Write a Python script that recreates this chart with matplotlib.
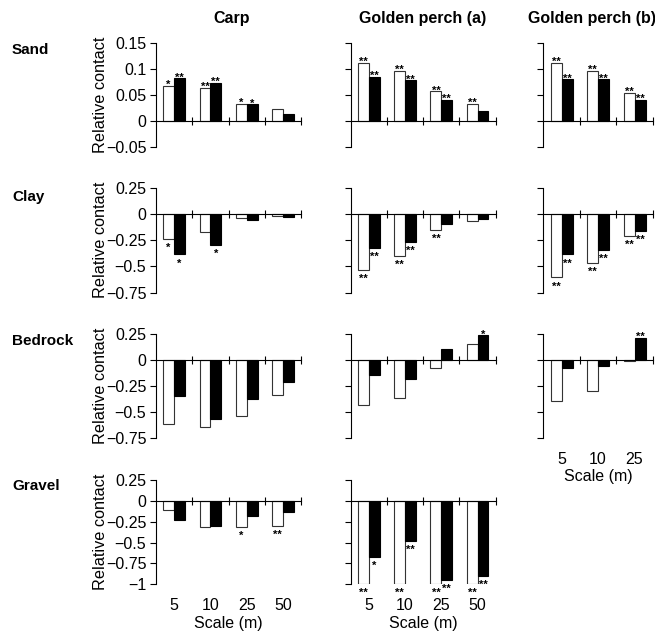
import matplotlib
matplotlib.use("Agg")
import matplotlib.pyplot as plt
from matplotlib.transforms import offset_copy

plt.rcParams['font.family'] = ['Liberation Sans', 'DejaVu Sans']

W, H = 655, 631
DPI = 100

# ---------------- data ----------------
scales4 = ["5", "10", "25", "50"]
scales3 = ["5", "10", "25"]

columns = ["Carp", "Golden perch (a)", "Golden perch (b)"]
rows = ["Sand", "Clay", "Bedrock", "Gravel"]

# open (white) and filled (black) bars
carp_sand_open = [0.068, 0.063, 0.033, 0.024]
carp_sand_fill = [0.082, 0.073, 0.032, 0.014]
carp_sand_open_sig = ["*", "**", "*", ""]
carp_sand_fill_sig = ["**", "**", "*", ""]

carp_clay_open = [-0.234, -0.171, -0.038, -0.016]
carp_clay_fill = [-0.386, -0.291, -0.060, -0.025]
carp_clay_open_sig = ["*", "", "", ""]
carp_clay_fill_sig = ["*", "*", "", ""]

carp_bed_open = [-0.615, -0.647, -0.542, -0.333]
carp_bed_fill = [-0.346, -0.564, -0.375, -0.212]
carp_bed_open_sig = ["", "", "", ""]
carp_bed_fill_sig = ["", "", "", ""]

carp_grav_open = [-0.108, -0.312, -0.308, -0.300]
carp_grav_fill = [-0.224, -0.304, -0.176, -0.132]
carp_grav_open_sig = ["", "", "*", "**"]
carp_grav_fill_sig = ["", "", "", ""]

gpa_sand_open = [0.111, 0.096, 0.057, 0.033]
gpa_sand_fill = [0.085, 0.078, 0.040, 0.019]
gpa_sand_open_sig = ["**", "**", "**", "**"]
gpa_sand_fill_sig = ["**", "**", "**", ""]

gpa_clay_open = [-0.535, -0.399, -0.149, -0.063]
gpa_clay_fill = [-0.323, -0.269, -0.092, -0.044]
gpa_clay_open_sig = ["**", "**", "**", ""]
gpa_clay_fill_sig = ["**", "**", "", ""]

gpa_bed_open = [-0.436, -0.369, -0.074, 0.154]
gpa_bed_fill = [-0.144, -0.179, 0.106, 0.237]
gpa_bed_open_sig = ["", "", "", ""]
gpa_bed_fill_sig = ["", "", "", "*"]

gpa_grav_open = [-1.0, -1.0, -1.0, -1.0]
gpa_grav_fill = [-0.669, -0.480, -0.945, -0.898]
gpa_grav_open_sig = ["**", "**", "**", "**"]
gpa_grav_fill_sig = ["*", "**", "**", "**"]

gpb_sand_open = [0.111, 0.096, 0.054]
gpb_sand_fill = [0.080, 0.080, 0.040]
gpb_sand_open_sig = ["**", "**", "**"]
gpb_sand_fill_sig = ["**", "**", "**"]

gpb_clay_open = [-0.604, -0.465, -0.209]
gpb_clay_fill = [-0.386, -0.339, -0.165]
gpb_clay_open_sig = ["**", "**", "**"]
gpb_clay_fill_sig = ["**", "**", "**"]

gpb_bed_open = [-0.391, -0.295, -0.013]
gpb_bed_fill = [-0.074, -0.058, 0.212]
gpb_bed_open_sig = ["", "", ""]
gpb_bed_fill_sig = ["", "", "**"]

sand_ticks = [-0.05, 0, 0.05, 0.1, 0.15]
sand_ticklabels = ["\u22120.05", "0", "0.05", "0.1", "0.15"]
mid_ticks = [-0.75, -0.5, -0.25, 0, 0.25]
mid_ticklabels = ["\u22120.75", "\u22120.5", "\u22120.25", "0", "0.25"]
grav_ticks = [-1, -0.75, -0.5, -0.25, 0, 0.25]
grav_ticklabels = ["\u22121", "\u22120.75", "\u22120.5", "\u22120.25", "0", "0.25"]

# ---------------- layout (pixels) ----------------
col_x = [(156, 301), (350.7, 495.7), (543.3, 652.8)]
row_y = [(43, 147), (187.7, 292.7), (334, 438), (480, 584.3)]

fig = plt.figure(figsize=(W / DPI, H / DPI), dpi=DPI)


def px_axes(l, t, r, b):
    return fig.add_axes([l / W, 1 - b / H, (r - l) / W, (b - t) / H])


panels = {
    (0, 0): (carp_sand_open, carp_sand_fill, carp_sand_open_sig, carp_sand_fill_sig),
    (1, 0): (carp_clay_open, carp_clay_fill, carp_clay_open_sig, carp_clay_fill_sig),
    (2, 0): (carp_bed_open, carp_bed_fill, carp_bed_open_sig, carp_bed_fill_sig),
    (3, 0): (carp_grav_open, carp_grav_fill, carp_grav_open_sig, carp_grav_fill_sig),
    (0, 1): (gpa_sand_open, gpa_sand_fill, gpa_sand_open_sig, gpa_sand_fill_sig),
    (1, 1): (gpa_clay_open, gpa_clay_fill, gpa_clay_open_sig, gpa_clay_fill_sig),
    (2, 1): (gpa_bed_open, gpa_bed_fill, gpa_bed_open_sig, gpa_bed_fill_sig),
    (3, 1): (gpa_grav_open, gpa_grav_fill, gpa_grav_open_sig, gpa_grav_fill_sig),
    (0, 2): (gpb_sand_open, gpb_sand_fill, gpb_sand_open_sig, gpb_sand_fill_sig),
    (1, 2): (gpb_clay_open, gpb_clay_fill, gpb_clay_open_sig, gpb_clay_fill_sig),
    (2, 2): (gpb_bed_open, gpb_bed_fill, gpb_bed_open_sig, gpb_bed_fill_sig),
}

yticks_by_row = [(sand_ticks, sand_ticklabels, (-0.05, 0.15)),
                 (mid_ticks, mid_ticklabels, (-0.75, 0.25)),
                 (mid_ticks, mid_ticklabels, (-0.75, 0.25)),
                 (grav_ticks, grav_ticklabels, (-1, 0.25))]

bw = 0.3
PT = 72 / DPI  # points per pixel

for (r, c), (op, fl, ops, fls) in panels.items():
    l, rr = col_x[c]
    t, b = row_y[r]
    ax = px_axes(l, t, rr, b)
    n = len(op)
    xs = list(range(n))
    ax.bar([x - bw / 2 for x in xs], op, width=bw, color="white",
           edgecolor="#333333", linewidth=0.8, zorder=2)
    ax.bar([x + bw / 2 for x in xs], fl, width=bw, color="black",
           edgecolor="black", linewidth=0.8, zorder=2)
    ticks, tlabels, lim = yticks_by_row[r]
    ax.set_ylim(*lim)
    ax.set_xlim(-0.5, n - 0.5)
    ax.set_yticks(ticks)
    if c == 0:
        ax.set_yticklabels(tlabels, fontsize=11.5)
    else:
        ax.set_yticklabels([])
    ax.tick_params(axis="y", direction="out", length=4, width=0.8, pad=3)
    ax.set_xticks([x + 0.5 for x in xs])
    ax.set_xticklabels([])
    ax.tick_params(axis="x", direction="inout", length=6, width=0.8)
    for s in ("top", "right"):
        ax.spines[s].set_visible(False)
    ax.spines["bottom"].set_position(("data", 0))
    ax.spines["bottom"].set_linewidth(0.8)
    ax.spines["left"].set_linewidth(0.8)
    ax.set_facecolor("none")

    # significance stars
    for vals, sigs, off in ((op, ops, -bw / 2), (fl, fls, bw / 2)):
        for x, v, s in zip(xs, vals, sigs):
            if not s:
                continue
            if v >= 0:
                tr = offset_copy(ax.transData, fig=fig, x=0, y=-2 * PT, units="points")
            else:
                tr = offset_copy(ax.transData, fig=fig, x=0, y=-12 * PT, units="points")
            ax.text(x + off, v, s, transform=tr, ha="center", va="baseline",
                    fontsize=8, fontweight="bold", zorder=3)

    # x labels for bottom panels
    if (r, c) in ((3, 0), (3, 1), (2, 2)):
        labels = scales4 if n == 4 else scales3
        for x, lab in zip(xs, labels):
            ax.annotate(lab, xy=(x, 0), xycoords=("data", "axes fraction"),
                        xytext=(0, -21 * PT), textcoords="offset points",
                        ha="center", va="center", fontsize=11.5)
        ax.annotate("Scale (m)", xy=(0.5, 0), xycoords="axes fraction",
                    xytext=(0, -39 * PT), textcoords="offset points",
                    ha="center", va="center", fontsize=11.5)

    if c == 0:
        fig.text(100.5 / W, 1 - ((t + b) / 2) / H, "Relative contact",
                 rotation=90, ha="center", va="center", fontsize=11.7)

# row labels
row_label_y = [50, 197, 341, 486]
for name, y in zip(rows, row_label_y):
    fig.text(12 / W, 1 - y / H, name, ha="left", va="center",
             fontsize=11, fontweight="bold")

# column titles
col_title_x = [232, 423, 592]
for name, x in zip(columns, col_title_x):
    fig.text(x / W, 1 - 19 / H, name, ha="center", va="center",
             fontsize=11.5, fontweight="bold")

fig.savefig("out.png", dpi=DPI)
